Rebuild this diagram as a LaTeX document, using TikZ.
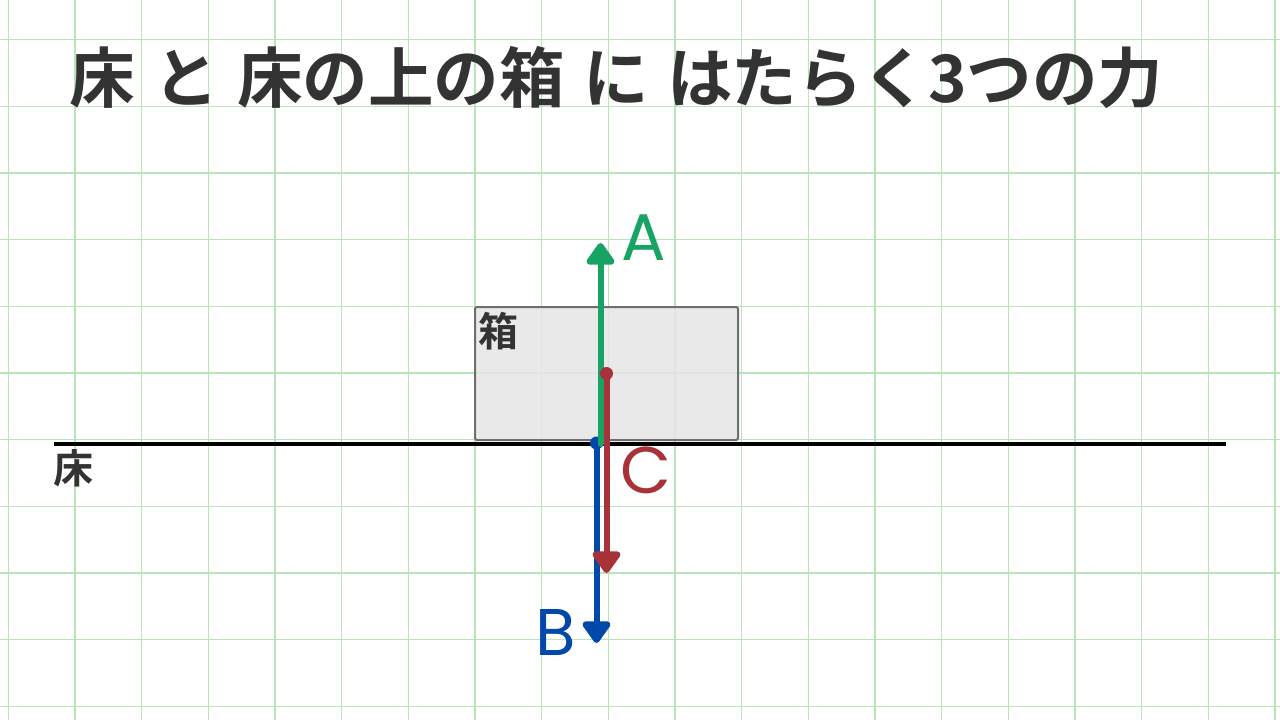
\documentclass[tikz,border=0pt]{standalone}
\usepackage{fontspec}
\usepackage{tikz}
\usetikzlibrary{arrows.meta}
\newfontfamily\jpbold{Noto Sans CJK JP Bold}[WordSpace=1.25]
\newfontfamily\letterfont{Poppins}
\definecolor{gridgreen}{RGB}{186,228,186}
\definecolor{inkgray}{RGB}{51,51,51}
\definecolor{forceA}{RGB}{23,163,99}
\definecolor{forceB}{RGB}{0,72,170}
\definecolor{forceC}{RGB}{168,50,58}
\definecolor{boxfill}{RGB}{230,230,230}
\definecolor{boxline}{RGB}{110,110,110}

\begin{document}
\begin{tikzpicture}[x=1pt,y=1pt,yscale=-1,xscale=1,
	force/.style={line width=6, line cap=round, -{Triangle[length=24pt,width=32pt,round]}},
	jplabel/.style={inner sep=0pt, text=inkgray, font=\jpbold\fontsize{40}{40}\selectfont},
	letter/.style={inner sep=0pt, text=#1, font=\letterfont\fontsize{66}{66}\selectfont}]
				\useasboundingbox (0,0) rectangle (1280,720);
				\fill[white] (0,0) rectangle (1280,720);
				
				%Grid
				\foreach \gx in {0,...,19} {\draw[gridgreen, line width=1.5] (8.3+66.67*\gx,0) -- (8.3+66.67*\gx,720);}
				\foreach \gy in {0,...,10} {\draw[gridgreen, line width=1.5] (0,39.7+66.67*\gy) -- (1280,39.7+66.67*\gy);}
				
				%Shape: Rectangle (box)
				\draw[boxline, fill=boxfill, fill opacity=0.85, line width=2, rounded corners=2] (475,307) rectangle (738,440);
				%Straight Lines (floor)
				\coordinate (floorL) at (54,443.5);
				\coordinate (floorR) at (1226,443.5);
				\draw[black, line width=4] (floorL) -- (floorR);
				
				%Force arrows
				\coordinate (bTail) at (596.5,443);
				\coordinate (bTip) at (596.5,643);
				\coordinate (aTail) at (600.5,444);
				\coordinate (aTip) at (600.5,243);
				\coordinate (cTail) at (606.5,373.5);
				\coordinate (cTip) at (606.5,573);
				\draw[force, forceB] (bTail) -- (bTip);
				\fill[forceB] (bTail) circle (6.5);
				\draw[force, forceA] (aTail) -- (aTip);
				\draw[force, forceC] (cTail) -- (cTip);
				\fill[forceC] (cTail) circle (6.5);
				
				% Text Node
				\node (title) at (69,102) [anchor=base west, inner sep=0pt, text=inkgray, font=\jpbold\fontsize{65.5}{65.5}\selectfont] {床 と 床の上の箱 に はたらく3つの力};
				% Text Node
				\node (floorlabel) at (73.5,468) [jplabel] {床};
				% Text Node
				\node (boxlabel) at (498.5,331) [jplabel] {箱};
				% Text Node
				\node (labelA) at (644,238) [letter=forceA] {A};
				% Text Node
				\node (labelC) at (645.5,470) [letter=forceC] {C};
				% Text Node
				\node (labelB) at (556,632) [letter=forceB] {B};
				
\end{tikzpicture}
\end{document}
